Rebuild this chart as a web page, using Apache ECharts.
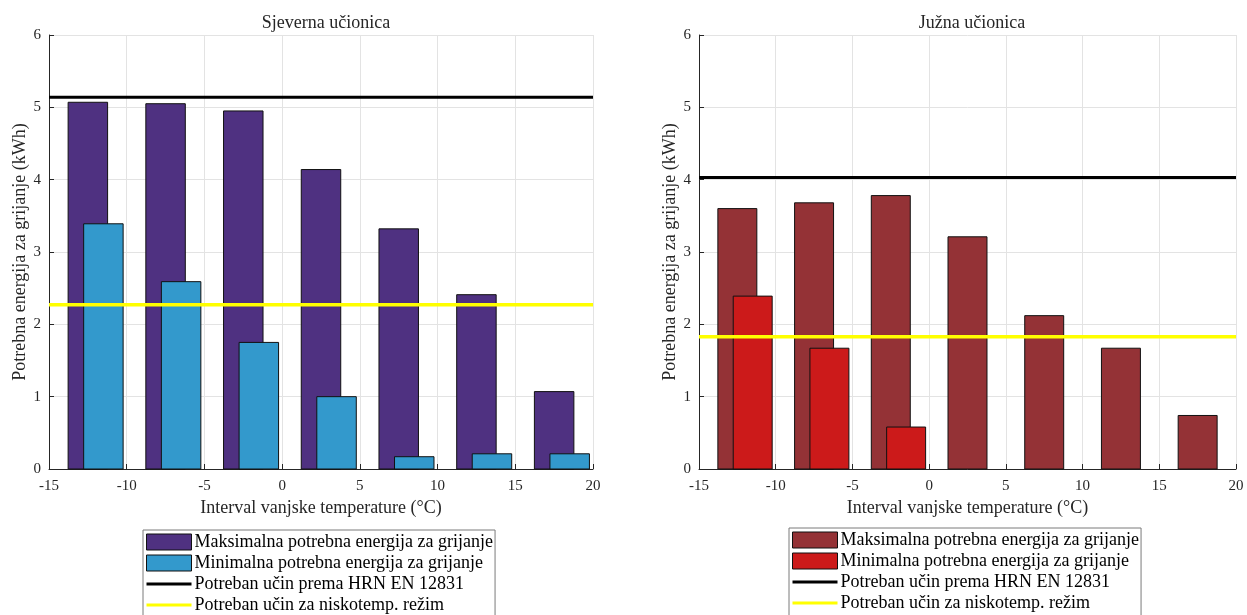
<!DOCTYPE html>
<html>
<head>
<meta charset="utf-8">
<script src="https://cdn.jsdelivr.net/npm/echarts@6/dist/echarts.min.js"></script>
<style>
html,body{margin:0;padding:0;background:#fff;}
#chart{width:1247px;height:615px;}
</style>
</head>
<body>
<div id="chart"></div>
<script>
// ---- data ----
const intervalCenters = [-12.5, -7.5, -2.5, 2.5, 7.5, 12.5, 17.5];
const northMax = [5.07, 5.05, 4.95, 4.14, 3.32, 2.41, 1.07];
const northMin = [3.39, 2.59, 1.75, 1.00, 0.17, 0.21, 0.21];
const southMax = [3.60, 3.68, 3.78, 3.21, 2.12, 1.67, 0.74];
const southMin = [2.39, 1.67, 0.58, 0, 0, 0, 0];
const northStandard = 5.14;
const northLowTemp = 2.27;
const southStandard = 4.03;
const southLowTemp = 1.83;
const xRange = [-15, 20];
const titles = ['Sjeverna učionica', 'Južna učionica'];
const seriesNames = ['Maksimalna potrebna energija za grijanje', 'Minimalna potrebna energija za grijanje', 'Potreban učin prema HRN EN 12831', 'Potreban učin za niskotemp. režim'];
const xName = 'Interval vanjske temperature (°C)';
const yName = 'Potrebna energija za grijanje (kWh)';

// ---- styling ----
const FONT = '"Liberation Serif", "Times New Roman", serif';
const TXT = '#262626';
const BAR_HALF = 1.27;
const MIN_SHIFT = 1.0;
const colors = {
  north: ['#4f3181', '#3399cc'],
  south: ['#943236', '#cc1a1a']
};
const LINE_ICON = 'path://M0,0 L45,0 L45,3 L0,3 Z';

function barRender(shift) {
  return function (params, api) {
    const x = api.value(0) + shift, v = api.value(1);
    if (!(v > 0)) return null;
    const p0 = api.coord([x - BAR_HALF, 0]);
    const p1 = api.coord([x + BAR_HALF, v]);
    return {
      type: 'rect',
      shape: {x: p0[0], y: p1[1], width: p1[0] - p0[0], height: p0[1] - p1[1]},
      style: {fill: api.visual('color'), stroke: '#111', lineWidth: 1}
    };
  };
}

const grids = [
  {left: 49, top: 35, width: 544, height: 434},
  {left: 699, top: 35, width: 537, height: 434}
];

function xAxis(i) {
  return {
    type: 'value', gridIndex: i, min: xRange[0], max: xRange[1], interval: 5,
    name: xName, nameLocation: 'middle', nameGap: 29,
    nameTextStyle: {fontFamily: FONT, fontSize: 18, color: TXT},
    axisLine: {show: true, onZero: false, lineStyle: {color: '#262626', width: 1}},
    axisTick: {show: true, inside: true, length: 5, lineStyle: {color: '#262626'}},
    axisLabel: {fontFamily: FONT, fontSize: 15, color: TXT, margin: 10},
    splitLine: {show: true, lineStyle: {color: '#e3e3e3', width: 1}}
  };
}
function yAxis(i) {
  return {
    type: 'value', gridIndex: i, min: 0, max: 6, interval: 1,
    name: yName, nameLocation: 'middle', nameGap: 20, nameRotate: 90,
    nameTextStyle: {fontFamily: FONT, fontSize: 18, color: TXT},
    axisLine: {show: true, onZero: false, lineStyle: {color: '#262626', width: 1}},
    axisTick: {show: true, inside: true, length: 5, lineStyle: {color: '#262626'}},
    axisLabel: {fontFamily: FONT, fontSize: 15, color: TXT, margin: 8},
    splitLine: {show: true, lineStyle: {color: '#e3e3e3', width: 1}}
  };
}

function makeSeries(i, maxV, minV, std, low, cols) {
  const pre = i === 0 ? 'n' : 's';
  return [
    {
      id: pre + 'max', name: seriesNames[0], type: 'custom', xAxisIndex: i, yAxisIndex: i,
      renderItem: barRender(0), itemStyle: {color: cols[0]},
      data: intervalCenters.map((c, k) => [c, maxV[k]]), z: 2
    },
    {
      id: pre + 'min', name: seriesNames[1], type: 'custom', xAxisIndex: i, yAxisIndex: i,
      renderItem: barRender(MIN_SHIFT), itemStyle: {color: cols[1]},
      data: intervalCenters.map((c, k) => [c, minV[k]]), z: 3
    },
    {
      id: pre + 'std', name: seriesNames[2], type: 'line', xAxisIndex: i, yAxisIndex: i,
      symbol: 'none', lineStyle: {color: '#000', width: 3}, itemStyle: {color: '#000'},
      data: [[xRange[0], std], [xRange[1], std]], z: 4, silent: true
    },
    {
      id: pre + 'low', name: seriesNames[3], type: 'line', xAxisIndex: i, yAxisIndex: i,
      symbol: 'none', lineStyle: {color: '#ffff00', width: 3.5}, itemStyle: {color: '#ffff00'},
      data: [[xRange[0], low], [xRange[1], low]], z: 5, silent: true
    }
  ];
}

function legend(left, top, cols) {
  return {
    orient: 'vertical', left: left, top: top, height: 200,
    backgroundColor: '#fff', borderColor: '#7a7a7a', borderWidth: 1,
    padding: [3, 2, 40, 3], itemGap: 3, itemWidth: 45, itemHeight: 16,
    symbolKeepAspect: true,
    textStyle: {fontFamily: FONT, fontSize: 18, lineHeight: 16, color: '#000', padding: [0, 0, 0, -2]},
    data: [
      {name: seriesNames[0], icon: 'rect', itemStyle: {color: cols[0], borderColor: '#111', borderWidth: 1}},
      {name: seriesNames[1], icon: 'rect', itemStyle: {color: cols[1], borderColor: '#111', borderWidth: 1}},
      {name: seriesNames[2], icon: LINE_ICON, itemStyle: {color: '#000', borderWidth: 0}},
      {name: seriesNames[3], icon: LINE_ICON, itemStyle: {color: '#ffff00', borderWidth: 0}}
    ],
    selectedMode: false
  };
}

const chart = echarts.init(document.getElementById('chart'), null, {renderer: 'canvas'});
chart.setOption({
  animation: false,
  backgroundColor: '#fff',
  title: [
    {text: titles[0], left: 49 + 272, top: 9, textAlign: 'center',
     textStyle: {fontFamily: FONT, fontSize: 18, fontWeight: 'normal', color: TXT}},
    {text: titles[1], left: 699 + 268, top: 9, textAlign: 'center',
     textStyle: {fontFamily: FONT, fontSize: 18, fontWeight: 'normal', color: TXT}}
  ],
  grid: grids,
  xAxis: [xAxis(0), xAxis(1)],
  yAxis: [yAxis(0), yAxis(1)],
  legend: [legend(143, 530, colors.north), legend(789, 528, colors.south)],
  series: [].concat(
    makeSeries(0, northMax, northMin, northStandard, northLowTemp, colors.north),
    makeSeries(1, southMax, southMin, southStandard, southLowTemp, colors.south)
  )
});
</script>
</body>
</html>
